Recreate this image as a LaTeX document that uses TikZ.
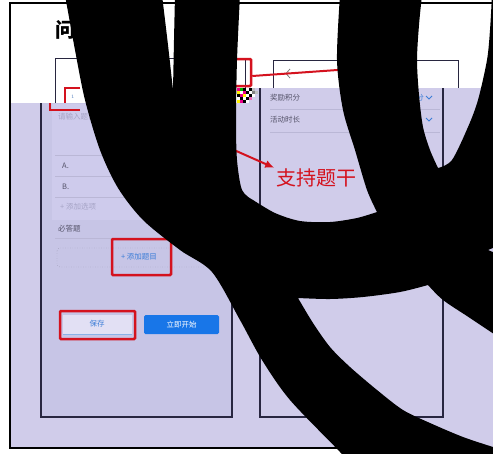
\documentclass[tikz,border=0pt]{standalone}
\usepackage{fontspec}
\newfontfamily\cjk{Noto Sans CJK SC}
\usepackage{xcolor}
\usetikzlibrary{arrows.meta}
\definecolor{lavbg}{RGB}{208,204,234}
\definecolor{lavphone}{RGB}{199,197,230}
\definecolor{lavcard}{RGB}{206,203,236}
\definecolor{framedark}{RGB}{40,38,64}
\definecolor{hlred}{RGB}{212,18,30}
\definecolor{btnblue}{RGB}{24,118,232}
\definecolor{txtblue}{RGB}{60,125,215}
\definecolor{txtdark}{RGB}{84,82,104}
\definecolor{txtlight}{RGB}{166,164,198}
\definecolor{rulegray}{RGB}{186,183,214}

\tikzset{
  phone/.style={draw=framedark, line width=1.3pt},
  redbox/.style={draw=hlred, line width=2.5pt, rounded corners=1pt, inner sep=0pt},
  smalltext/.style={font=\cjk\fontsize{7.5}{9}\selectfont, inner sep=0pt, text=txtdark},
  rowline/.style={draw=rulegray, line width=0.6pt},
  ink/.style={fill=black},
}

\begin{document}
\begin{tikzpicture}[x=1pt,y=-1pt]
\useasboundingbox (0,0) rectangle (493,453);
\clip (0,0) rectangle (493,453);
\fill[white] (0,0) rectangle (493,453);
\fill[lavbg] (10,103) rectangle (237,448);
\fill[lavbg] (237,88) rectangle (493,448);
\draw[line width=1.8pt] (500,448) -| (10,3) -- (500,3);

\node[font=\cjk\bfseries\fontsize{20}{22}\selectfont, anchor=west, inner sep=0pt] (title) at (55,30) {问};

\fill[lavphone] (41,103) rectangle (232,417);
\fill[lavcard] (52,104) rectangle (232,220);
\draw[phone] (41,103) |- (232,417) -- (232,103);
\draw[phone, line width=1pt] (55,103) |- (245,58) -- (245,88);
\draw[phone] (260,88) |- (443,417) -- (443,88);
\draw[phone, line width=1pt] (273,88) |- (458,60) -- (458,88);
\draw[gray, line width=0.8pt] (290,69) -- (286,73.5) -- (290,78);

\draw[hlred, line width=2pt] (80,88) -| (65,103);
\draw[hlred, line width=2pt] (50,103) |- (80,110);
\node[font=\fontsize{5}{6}\selectfont, text=txtblue!70!gray, anchor=west, inner sep=0pt] (stemnum) at (71,97) {1};
\foreach \gx/\gy/\gc in {237/88/magenta, 240/88/green!70!black, 243/88/black, 246/88/white, 249/88/black, 252/88/lightgray,
  237/91/yellow, 240/91/white, 243/91/magenta, 246/91/black, 249/91/white, 252/91/gray, 255/91/lightgray,
  237/94/black, 240/94/magenta, 243/94/yellow, 246/94/white, 249/94/black, 252/94/white,
  237/97/white, 240/97/black, 243/97/white, 246/97/black, 249/97/magenta!60,
  237/100/yellow, 240/100/magenta, 243/100/black, 246/100/white}
  \fill[\gc] (\gx,\gy) rectangle +(3,3);

\node[smalltext, text=txtlight, anchor=west] (stemhint) at (58,117) {请输入题目};
\draw[rowline] (55,155) -- (232,155);
\draw[rowline] (55,176) -- (232,176);
\draw[rowline] (55,197) -- (232,197);
\draw[rowline] (55,238) -- (232,238);
\node[smalltext, anchor=west] (optA) at (62,166) {A.};
\node[smalltext, anchor=west] (optB) at (62,187) {B.};
\node[smalltext, text=txtlight, anchor=west] (addopt) at (60,207) {+ 添加选项};
\node[smalltext, anchor=west] (required) at (58,229) {必答题};
\draw[rulegray!70!black, dotted, rounded corners=3pt] (57,248) rectangle (226,267);
\node[smalltext, text=txtblue] (addq) at (139,257) {+ 添加题目};
\node[redbox, minimum width=59pt, minimum height=36pt] (addqbox) at (141.5,257) {};
\fill[lavcard!60!white] (63,315) rectangle (132,334);
\draw[txtblue!60, line width=0.8pt] (63,334) -- (132,334);
\node[smalltext, text=txtblue] (save) at (97,324) {保存};
\node[redbox, minimum width=75pt, minimum height=28pt] (savebox) at (97.5,325) {};
\node[smalltext, fill=btnblue, text=white, rounded corners=1.5pt, minimum width=75pt, minimum height=19pt] (start) at (181.5,324.5) {立即开始};

\node[smalltext, anchor=west] (award) at (270,98) {奖励积分};
\node[smalltext, anchor=west] (duration) at (270,120) {活动时长};
\draw[rowline] (270,109) -- (440,109);
\draw[rowline] (270,132) -- (440,132);
\node[smalltext, text=txtblue, anchor=east] (awardval) at (424,98) {10分};
\draw[txtblue, line width=0.8pt] (426,96) -- (429,99) -- (432,96);
\draw[txtblue, line width=0.8pt] (426,118) -- (429,121) -- (432,118);
\node[font=\cjk\fontsize{20}{22}\selectfont, text=hlred, anchor=west, inner sep=0pt] (stemtip) at (276,178) {支持题干};

\node[redbox, minimum width=51pt, minimum height=27pt] (titlebox) at (225.5,72.5) {};
\coordinate (linkend) at (380,67);
\draw[hlred, line width=2pt] ([yshift=-3.5pt]titlebox.east) -- (linkend);
\coordinate (arrowfrom) at (207,138);
\draw[hlred, line width=2pt, -{Latex[length=9pt,width=8pt]}, shorten >=2pt] (arrowfrom) -- (stemtip.north west);

\fill[ink] plot[smooth] coordinates {(65,-5) (75,50) (85,100) (100,150) (118,188) (143,220) (180,250) (212,272) (240,320) (262,360) (290,400) (340,452) (345,460)}
  -- (500,460) -- (500,449)
  -- plot[smooth] coordinates {(493,447) (463,437) (430,423) (403,410) (377,390) (350,367) (330,347) (313,323) (298,298)}
  -- plot[smooth] coordinates {(298,298) (330,299) (363,297) (400,292) (428,285)}
  -- plot[smooth] coordinates {(428,285) (443,300) (470,318) (500,338)}
  -- (500,255) -- (488,250) -- (500,245) -- (500,-5) -- (492,-5)
  -- plot[smooth] coordinates {(492,-5) (490,30) (487,60) (478,100) (468,127) (452,160) (438,168)}
  -- plot[smooth] coordinates {(438,168) (430,150) (423,127) (419,95) (417,60) (419,25) (422,-5)}
  -- (340,-5)
  -- plot[smooth] coordinates {(340,-5) (337,60) (343,110) (355,150) (367,190) (377,212)}
  -- plot[smooth] coordinates {(377,212) (357,218) (330,222) (300,221) (275,213) (253,200)}
  -- plot[smooth] coordinates {(253,200) (242,190) (237,160) (236,120) (237,60) (240,-5)}
  -- (175,-5)
  -- plot[smooth] coordinates {(175,-5) (174,40) (173,90)}
  -- plot[smooth] coordinates {(173,90) (168,45) (162,-5)}
  -- cycle;
\end{tikzpicture}
\end{document}
